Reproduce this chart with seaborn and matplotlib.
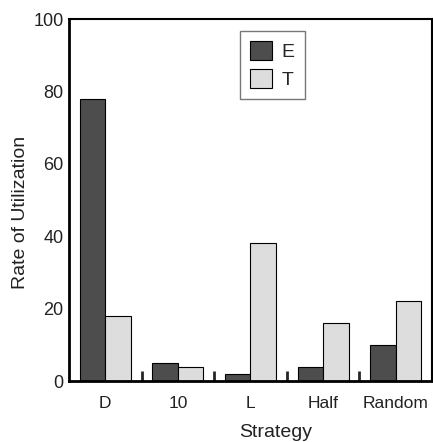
import matplotlib
matplotlib.use("Agg")
import matplotlib.pyplot as plt
import seaborn as sns
import pandas as pd
from matplotlib.ticker import FixedLocator

strategies = ["D", "10", "L", "Half", "Random"]
e_values = [78, 5, 2, 4, 10]
t_values = [18, 4, 38, 16, 22]
series_names = ["E", "T"]

df = pd.DataFrame({
    "Strategy": strategies * 2,
    "Rate": e_values + t_values,
    "Series": [series_names[0]] * len(strategies) + [series_names[1]] * len(strategies),
})

sns.set_style("white")
plt.rcParams['font.family'] = ['Liberation Sans', 'DejaVu Sans']

fig = plt.figure(figsize=(4.33, 4.42), dpi=100)
ax = fig.add_axes([69/433, 1 - 381/442, 363/433, 362/442])

sns.barplot(data=df, x="Strategy", y="Rate", hue="Series", order=strategies,
            hue_order=series_names, palette=["#4d4d4d", "#dddddd"],
            width=0.7, gap=0, edgecolor="black", linewidth=0.8,
            saturation=1, ax=ax)

ax.set_xlim(-0.5, 4.5)
ax.set_ylim(0, 100)
ax.set_yticks([0, 20, 40, 60, 80, 100])
ax.tick_params(axis="y", direction="in", length=8, width=1.5, labelsize=13, pad=4, colors="black", labelcolor="#222222")
ax.tick_params(axis="x", which="major", length=0, labelsize=12.5, pad=11, labelcolor="#222222")
ax.xaxis.set_minor_locator(FixedLocator([0.5, 1.5, 2.5, 3.5]))
ax.tick_params(axis="x", which="minor", direction="in", length=7, width=2, bottom=True)

for s in ax.spines.values():
    s.set_visible(True)
    s.set_color("black")
ax.spines["left"].set_linewidth(2)
ax.spines["bottom"].set_linewidth(2)
ax.spines["top"].set_linewidth(1.5)
ax.spines["right"].set_linewidth(1.5)

ax.set_xlabel("Strategy", fontsize=14, color="#222222")
ax.set_ylabel("Rate of Utilization", fontsize=14, color="#222222")
ax.xaxis.set_label_coords(0.57, -0.118)
ax.yaxis.set_label_coords(-0.11, 0.467)

leg = ax.legend(title=None, loc="upper left", bbox_to_anchor=(171/363, 1 - 12/362),
                borderaxespad=0, fontsize=14, frameon=True, fancybox=False,
                edgecolor="#555555", handlelength=1.15, handleheight=1.15,
                handletextpad=0.5, borderpad=0.5, labelspacing=0.4)
leg.get_frame().set_linewidth(1.0)

fig.savefig("out.png", dpi=100)
